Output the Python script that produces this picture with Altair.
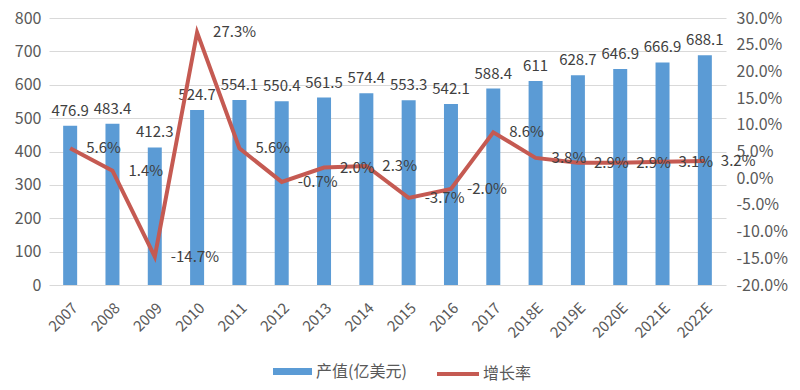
import altair as alt
import pandas as pd

years = ["2007", "2008", "2009", "2010", "2011", "2012", "2013", "2014", "2015",
         "2016", "2017", "2018E", "2019E", "2020E", "2021E", "2022E"]
output = [476.9, 483.4, 412.3, 524.7, 554.1, 550.4, 561.5, 574.4, 553.3,
          542.1, 588.4, 611, 628.7, 646.9, 666.9, 688.1]
growth = [5.6, 1.4, -14.7, 27.3, 5.6, -0.7, 2.0, 2.3, -3.7, -2.0, 8.6,
          3.8, 2.9, 2.9, 3.1, 3.2]
left_ticks = [0, 100, 200, 300, 400, 500, 600, 700, 800]
right_ticks = [-0.20, -0.15, -0.10, -0.05, 0.0, 0.05, 0.10, 0.15, 0.20, 0.25, 0.30]
series_bar = "产值(亿美元)"
series_line = "增长率"

df = pd.DataFrame({
    "year": years,
    "output": output,
    "growth": [g / 100 for g in growth],
    "glabel": [f"{g:.1f}%" for g in growth],
    "olabel": [f"{v:g}" for v in output],
    "s1": series_bar,
    "s2": series_line,
})

FONT = "Noto Sans CJK SC"
GRAY = "#595959"
TXT = "#404040"
BLUE = "#5B9BD5"
RED = "#C55A52"

x_axis = alt.Axis(labelAngle=-45, labelFontSize=15, labelColor=GRAY,
                  labelFont=FONT, ticks=False, domain=False, labelPadding=15,
                  labelOverlap=False)
x_scale = alt.Scale(paddingInner=0, paddingOuter=0)
x = alt.X("year:N", sort=years, title=None, scale=x_scale, axis=x_axis)

left_axis = alt.Axis(values=left_ticks, tickCount=9, grid=True, gridColor="#D9D9D9",
                     ticks=False, domain=False, labelFontSize=16, labelColor=GRAY,
                     labelFont=FONT, labelPadding=8, labelOverlap=False,
                     labelFlush=False)
left_scale = alt.Scale(domain=[0, 800], nice=False)
right_axis = alt.Axis(orient="right", values=right_ticks, tickCount=11,
                      grid=False, ticks=False, domain=False, labelFontSize=16,
                      labelColor=GRAY, labelFont=FONT, labelPadding=10,
                      labelOverlap=False, labelFlush=False,
                      labelExpr="replace(format(datum.value, '.1%'), '\u2212', '-')")
right_scale = alt.Scale(domain=[-0.2, 0.3], nice=False)

base = alt.Chart(df)

bars = base.mark_bar(size=14, color=BLUE).encode(
    x=x,
    y=alt.Y("output:Q", title=None, scale=left_scale, axis=left_axis),
    color=alt.Color("s1:N", title=None,
                    scale=alt.Scale(domain=[series_bar], range=[BLUE]),
                    legend=alt.Legend(orient="none", legendX=224, legendY=334,
                                      symbolType="M-1,-0.18L1,-0.18L1,0.18L-1,0.18Z",
                                      symbolSize=1521, symbolStrokeWidth=0,
                                      symbolFillColor=BLUE, symbolOpacity=1,
                                      labelFontSize=16,
                                      labelColor=GRAY, labelFont=FONT, labelOffset=4)),
)

bar_text = base.mark_text(baseline="bottom", dy=-7, fontSize=15, font=FONT, color=TXT).encode(
    x=x,
    y=alt.Y("output:Q", title=None, scale=left_scale, axis=left_axis),
    text="olabel:N",
)

line = base.mark_line(strokeWidth=4, color=RED).encode(
    x=x,
    y=alt.Y("growth:Q", title=None, scale=right_scale, axis=right_axis),
    color=alt.Color("s2:N", title=None,
                    scale=alt.Scale(domain=[series_line], range=[RED]),
                    legend=alt.Legend(orient="none", legendX=386, legendY=333,
                                      symbolType="stroke", symbolSize=1764,
                                      symbolStrokeWidth=4, symbolStrokeColor=RED,
                                      labelFontSize=16,
                                      labelColor=GRAY, labelFont=FONT, labelOffset=2)),
)

line_text = base.mark_text(align="left", baseline="middle", dx=16, fontSize=15,
                           font=FONT, color=TXT).encode(
    x=x,
    y=alt.Y("growth:Q", title=None, scale=right_scale, axis=right_axis),
    text="glabel:N",
)

chart = alt.layer(
    alt.layer(bars, bar_text),
    alt.layer(line, line_text),
).resolve_scale(y="independent", color="independent").properties(
    width=677, height=267,
    autosize=alt.AutoSizeParams(type="none"),
    padding={"left": 41, "top": 10, "right": 66, "bottom": 97},
).configure_view(stroke=None).configure_legend(direction="horizontal")

chart.save("out.html", embed_options={"renderer": "svg", "actions": False})
